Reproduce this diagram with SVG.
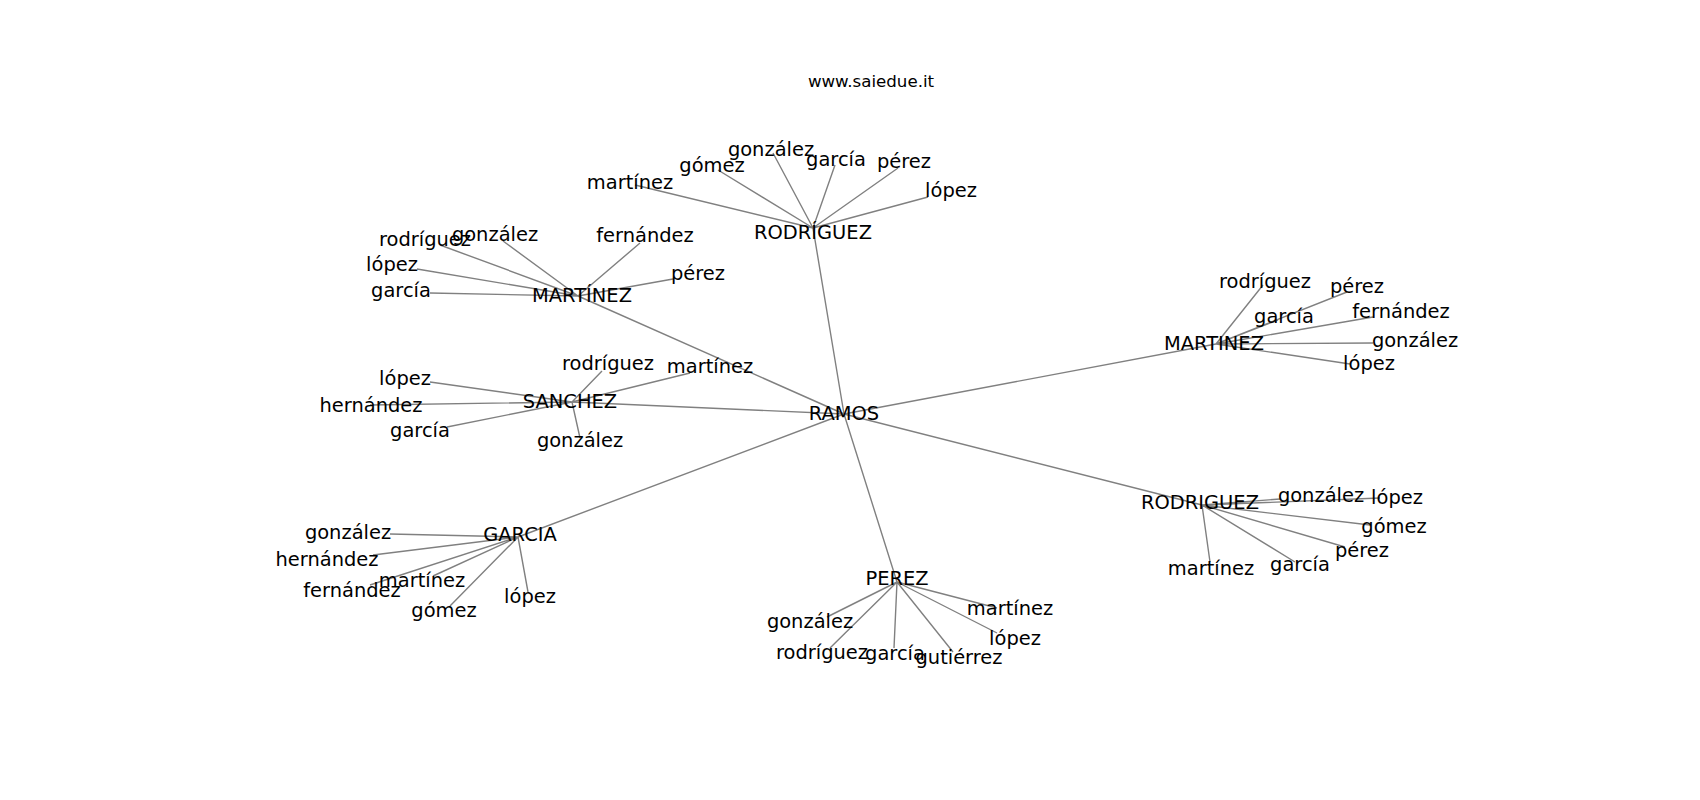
<svg xmlns="http://www.w3.org/2000/svg" width="1700" height="800" viewBox="0 0 1700 800">
<style>
.e{stroke:#808080;stroke-width:1.4;fill:none}
text{font-family:"DejaVu Sans","Liberation Sans",sans-serif;font-size:19.44px;fill:#000;text-anchor:middle}
.t{font-size:16.67px}
</style>
<rect width="1700" height="800" fill="#fff"/>
<text class="t" x="871" y="87">www.saiedue.it</text>
<g id="edges">
<path class="e" d="M844,414L813,228M844,414L578,296M844,414L572,402M844,414L1216,344M844,414L1202,505M844,414L518,537M844,414L897,582"/>
<path class="e" d="M813,228L635,185M813,228L718,170M813,228L773,153M813,228L835,165M813,228L898,168M813,228L928,197"/>
<path class="e" d="M578,296L440,245M578,296L503,241M578,296L640,243M578,296L673,279M578,296L417,269M578,296L430,293"/>
<path class="e" d="M572,402L602,371M572,402L690,373M572,402L430,382M572,402L370,405M572,402L447,427M572,402L580,438"/>
<path class="e" d="M1216,344L1263,285M1216,344L1347,292M1216,344L1278,320M1216,344L1373,317M1216,344L1373,343M1216,344L1350,364"/>
<path class="e" d="M1202,505L1280,499M1202,505L1380,498M1202,505L1370,525M1202,505L1345,547M1202,505L1295,562M1202,505L1210,562"/>
<path class="e" d="M518,537L390,534M518,537L373,555M518,537L370,585M518,537L433,576M518,537L450,606M518,537L528,592"/>
<path class="e" d="M897,582L827,617M897,582L830,648M897,582L894,648M897,582L953,652M897,582L997,633M897,582L997,608"/>
</g>
<g id="n-ramos"><text x="844" y="420">RAMOS</text></g>
<g id="n-rodriguez-top">
<text x="813" y="239">RODRÍGUEZ</text>
<text x="630" y="189">martínez</text>
<text x="712" y="172">gómez</text>
<text x="771" y="156">gonzález</text>
<text x="836" y="166">garcía</text>
<text x="904" y="168">pérez</text>
<text x="951" y="197">lópez</text>
</g>
<g id="n-martinez-acc">
<text x="582" y="302">MARTÍNEZ</text>
<text x="425" y="246">rodríguez</text>
<text x="495" y="241">gonzález</text>
<text x="645" y="242">fernández</text>
<text x="698" y="280">pérez</text>
<text x="392" y="271">lópez</text>
<text x="401" y="297">garcía</text>
</g>
<g id="n-sanchez">
<text x="570" y="408">SANCHEZ</text>
<text x="608" y="370">rodríguez</text>
<text x="710" y="373">martínez</text>
<text x="405" y="385">lópez</text>
<text x="371" y="412">hernández</text>
<text x="420" y="437">garcía</text>
<text x="580" y="447">gonzález</text>
</g>
<g id="n-martinez">
<text x="1214" y="350">MARTINEZ</text>
<text x="1265" y="288">rodríguez</text>
<text x="1357" y="293">pérez</text>
<text x="1284" y="323">garcía</text>
<text x="1401" y="318">fernández</text>
<text x="1415" y="347">gonzález</text>
<text x="1369" y="370">lópez</text>
</g>
<g id="n-rodriguez">
<text x="1200" y="509">RODRIGUEZ</text>
<text x="1321" y="502">gonzález</text>
<text x="1397" y="504">lópez</text>
<text x="1394" y="533">gómez</text>
<text x="1362" y="557">pérez</text>
<text x="1300" y="571">garcía</text>
<text x="1211" y="575">martínez</text>
</g>
<g id="n-garcia">
<text x="520" y="541">GARCIA</text>
<text x="348" y="539">gonzález</text>
<text x="327" y="566">hernández</text>
<text x="352" y="597">fernández</text>
<text x="422" y="587">martínez</text>
<text x="444" y="617">gómez</text>
<text x="530" y="603">lópez</text>
</g>
<g id="n-perez">
<text x="897" y="585">PEREZ</text>
<text x="810" y="628">gonzález</text>
<text x="822" y="659">rodríguez</text>
<text x="895" y="660">garcía</text>
<text x="959" y="664">gutiérrez</text>
<text x="1015" y="645">lópez</text>
<text x="1010" y="615">martínez</text>
</g>
</svg>
